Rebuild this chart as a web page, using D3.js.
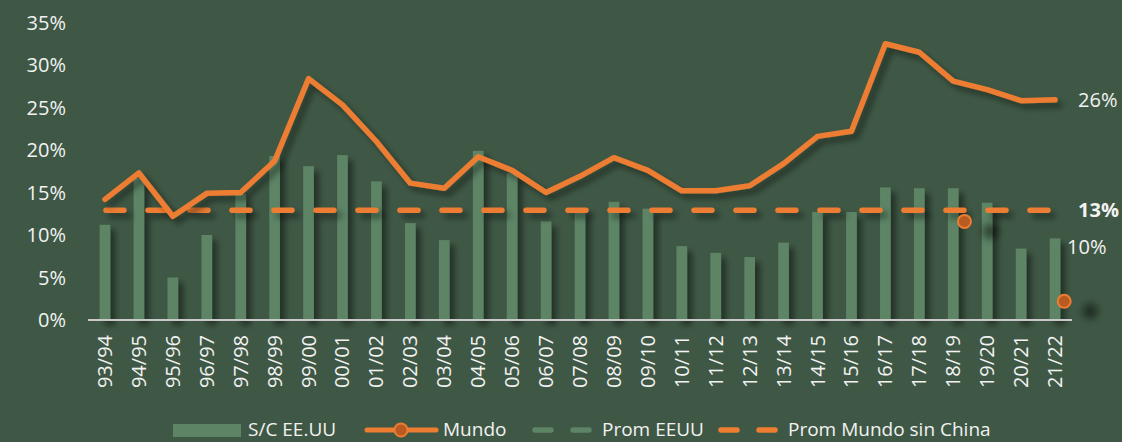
<!DOCTYPE html>
<html lang="es">
<head>
    <meta charset="UTF-8">
    <title>S/C EE.UU vs Mundo</title>
    <script src="https://d3js.org/d3.v7.min.js"></script>
    <style>
        html, body {
            margin: 0;
            padding: 0;
            background: #3f5845;
        }
        text {
            font-family: "Open Sans", sans-serif;
            fill: #f2f2f2;
        }
    </style>
</head>
<body>
    <div id="chart"></div>
    <script>
        const campaigns = ["93/94", "94/95", "95/96", "96/97", "97/98", "98/99", "99/00", "00/01",
            "01/02", "02/03", "03/04", "04/05", "05/06", "06/07", "07/08", "08/09", "09/10",
            "10/11", "11/12", "12/13", "13/14", "14/15", "15/16", "16/17", "17/18", "18/19",
            "19/20", "20/21", "21/22"];

        // stock / consumo EE.UU (barras)
        const scEEUU = [11.2, 16.7, 5.0, 10.0, 14.8, 19.3, 18.1, 19.4, 16.3, 11.4, 9.4, 19.9,
            17.3, 11.6, 12.9, 13.9, 13.1, 8.7, 7.9, 7.4, 9.1, 12.7, 12.7, 15.6, 15.5, 15.5,
            13.8, 8.4, 9.6];

        // stock / consumo mundo (linea)
        const mundo = [14.2, 17.3, 12.2, 14.9, 15.0, 18.7, 28.4, 25.3, 21.0, 16.1, 15.5, 19.2,
            17.6, 15.0, 16.9, 19.1, 17.6, 15.2, 15.2, 15.8, 18.4, 21.6, 22.2, 32.5, 31.5, 28.1,
            27.1, 25.8, 25.9];

        const promMundoSinChina = 12.9;

        // sueltos marcadores de la serie Mundo (posicion en campañas, valor)
        const mundoMarkers = [{ pos: 25.33, value: 11.6 }, { pos: 28.27, value: 2.2 }];

        const yTicks = [0, 5, 10, 15, 20, 25, 30, 35];

        const endLabels = [
            { text: "26%", value: 25.9, dx: 23, bold: false },
            { text: "13%", value: 12.9, dx: 23, bold: true },
            { text: "10%", value: 8.6, dx: 12, bold: false }
        ];

        const legendItems = ["S/C EE.UU", "Mundo", "Prom EEUU", "Prom Mundo sin China"];

        const width = 1122, height = 442;
        const orange = "#ed7d31", green = "#5c8465";

        const svg = d3.select("#chart").append("svg")
            .attr("width", width)
            .attr("height", height);

        svg.append("rect")
            .attr("width", width)
            .attr("height", height)
            .attr("fill", "#3f5845");

        const defs = svg.append("defs");
        defs.append("filter")
            .attr("id", "shadow")
            .attr("filterUnits", "userSpaceOnUse")
            .attr("x", 0).attr("y", 0)
            .attr("width", width).attr("height", height)
            .append("feDropShadow")
            .attr("dx", 5).attr("dy", 5)
            .attr("stdDeviation", 3)
            .attr("flood-color", "#000")
            .attr("flood-opacity", 0.45);
        defs.append("filter")
            .attr("id", "shadowFar")
            .attr("filterUnits", "userSpaceOnUse")
            .attr("x", 0).attr("y", 0)
            .attr("width", width).attr("height", height)
            .append("feDropShadow")
            .attr("dx", 26).attr("dy", 10)
            .attr("stdDeviation", 4)
            .attr("flood-color", "#000")
            .attr("flood-opacity", 0.55);

        const x = d3.scaleBand()
            .domain(campaigns)
            .range([88, 1072])
            .paddingInner(0.685)
            .paddingOuter(0.3425);

        const cx = d => x(d) + x.bandwidth() / 2;

        const xPos = d3.scaleLinear()
            .domain([0, campaigns.length - 1])
            .range([cx(campaigns[0]), cx(campaigns[campaigns.length - 1])]);

        const y = d3.scaleLinear()
            .domain([0, 35])
            .range([320, 22.5]);

        // eje y
        svg.append("g")
            .selectAll("text")
            .data(yTicks)
            .join("text")
            .attr("x", 66)
            .attr("y", d => y(d))
            .attr("dy", "0.35em")
            .attr("text-anchor", "end")
            .attr("font-size", 20)
            .text(d => d + "%");

        // barras
        svg.append("g")
            .attr("filter", "url(#shadow)")
            .selectAll("rect")
            .data(scEEUU)
            .join("rect")
            .attr("x", (d, i) => x(campaigns[i]))
            .attr("y", d => y(d))
            .attr("width", x.bandwidth())
            .attr("height", d => y(0) - y(d))
            .attr("fill", green);

        // eje x
        svg.append("line")
            .attr("x1", 88).attr("x2", 1072)
            .attr("y1", y(0)).attr("y2", y(0))
            .attr("stroke", "#c9c9c9")
            .attr("stroke-width", 2);

        svg.append("g")
            .selectAll("text")
            .data(campaigns)
            .join("text")
            .attr("transform", d => `translate(${cx(d)},${y(0) + 15}) rotate(-90)`)
            .attr("dy", "0.35em")
            .attr("text-anchor", "end")
            .attr("font-size", 20)
            .text(d => d);

        // promedio mundo sin China
        svg.append("line")
            .attr("x1", cx(campaigns[0]) + 1)
            .attr("x2", cx(campaigns[campaigns.length - 1]))
            .attr("y1", y(promMundoSinChina))
            .attr("y2", y(promMundoSinChina))
            .attr("stroke", orange)
            .attr("stroke-width", 5.5)
            .attr("stroke-linecap", "round")
            .attr("stroke-dasharray", "18 24")
            .attr("filter", "url(#shadow)");

        // linea mundo
        const line = d3.line()
            .x((d, i) => cx(campaigns[i]))
            .y(d => y(d));

        svg.append("path")
            .datum(mundo)
            .attr("d", line)
            .attr("fill", "none")
            .attr("stroke", orange)
            .attr("stroke-width", 5.5)
            .attr("stroke-linejoin", "round")
            .attr("stroke-linecap", "round")
            .attr("filter", "url(#shadow)");

        svg.append("g")
            .selectAll("circle")
            .data(mundoMarkers)
            .join("circle")
            .attr("cx", d => xPos(d.pos))
            .attr("cy", d => y(d.value))
            .attr("r", 6.5)
            .attr("fill", "#b85a22")
            .attr("stroke", orange)
            .attr("stroke-width", 2)
            .attr("filter", "url(#shadowFar)");

        // etiquetas finales
        svg.append("g")
            .selectAll("text")
            .data(endLabels)
            .join("text")
            .attr("x", d => cx(campaigns[campaigns.length - 1]) + d.dx)
            .attr("y", d => y(d.value))
            .attr("dy", "0.35em")
            .attr("font-size", 20)
            .attr("font-weight", d => d.bold ? "bold" : "normal")
            .text(d => d.text);

        // leyenda
        const legendY = 429;
        const legend = svg.append("g");

        legend.append("rect")
            .attr("x", 173).attr("y", legendY - 5)
            .attr("width", 68).attr("height", 13)
            .attr("fill", green);
        legend.append("text")
            .attr("x", 248).attr("y", legendY).attr("dy", "0.38em")
            .attr("font-size", 19)
            .text(legendItems[0]);

        legend.append("line")
            .attr("x1", 367).attr("x2", 436)
            .attr("y1", legendY + 1).attr("y2", legendY + 1)
            .attr("stroke", orange).attr("stroke-width", 5)
            .attr("stroke-linecap", "round");
        legend.append("circle")
            .attr("cx", 401).attr("cy", legendY + 1).attr("r", 6.5)
            .attr("fill", "#b85a22").attr("stroke", orange).attr("stroke-width", 2);
        legend.append("text")
            .attr("x", 443).attr("y", legendY).attr("dy", "0.38em")
            .attr("font-size", 19)
            .text(legendItems[1]);

        legend.append("line")
            .attr("x1", 535).attr("x2", 590)
            .attr("y1", legendY + 1).attr("y2", legendY + 1)
            .attr("stroke", green).attr("stroke-width", 5.5)
            .attr("stroke-linecap", "round")
            .attr("stroke-dasharray", "16 22");
        legend.append("text")
            .attr("x", 602).attr("y", legendY).attr("dy", "0.38em")
            .attr("font-size", 19)
            .text(legendItems[2]);

        legend.append("line")
            .attr("x1", 721).attr("x2", 776)
            .attr("y1", legendY + 1).attr("y2", legendY + 1)
            .attr("stroke", orange).attr("stroke-width", 5.5)
            .attr("stroke-linecap", "round")
            .attr("stroke-dasharray", "16 22");
        legend.append("text")
            .attr("x", 788).attr("y", legendY).attr("dy", "0.38em")
            .attr("font-size", 19)
            .text(legendItems[3]);
    </script>
</body>
</html>
